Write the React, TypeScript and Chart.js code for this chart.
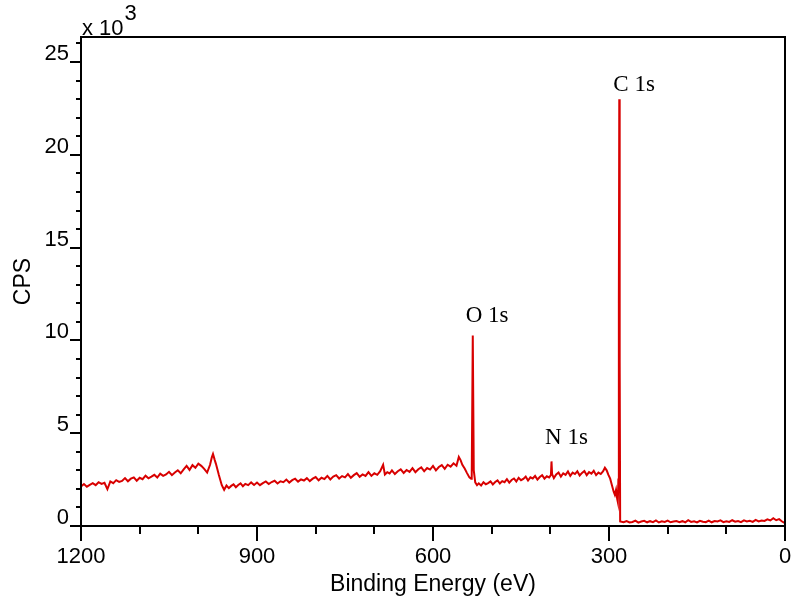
import React, { useEffect, useRef } from "react";
import { Chart, registerables } from "chart.js";
Chart.register(...registerables);

// Binding energy (eV) and counts (x10^3 CPS)
const energies = [
  1200, 1195, 1190, 1185, 1180, 1175, 1170, 1165, 1160, 1155, 1150, 1145, 1140, 1135, 1130, 1125, 1120, 1115, 1110, 1105,
  1100, 1095, 1090, 1085, 1080, 1075, 1070, 1065, 1060, 1055, 1050, 1045, 1040, 1035, 1030, 1025, 1020, 1015, 1010, 1005,
  1000, 995, 990, 985, 980, 977, 975, 972, 970, 965, 960, 956,
  952, 948, 944, 940, 936, 932, 928, 924, 920, 915, 910, 905,
  900, 895, 890, 885, 880, 875, 870, 865, 860, 855, 850, 845, 840, 835, 830, 825, 820, 815, 810, 805,
  800, 795, 790, 785, 780, 775, 770, 765, 760, 755, 750, 745, 740, 735, 730, 725, 720, 715, 710,
  705, 700, 695, 690, 685, 682, 678, 674, 670, 665, 660, 655, 650, 645, 640, 635, 630, 625, 620, 615,
  610, 605, 600, 595, 590, 585, 580, 575, 570, 565, 560, 556, 553, 550, 546, 542, 538, 535,
  534, 532.2, 530.5, 528, 525,
  522, 518, 514, 510, 506, 502, 498, 494, 490, 486, 482, 478, 474, 470, 466, 462, 458, 454, 450, 446,
  442, 438, 434, 430, 426, 422, 418, 414, 410, 406, 402, 399, 398, 397, 394, 390, 386, 382, 378, 374,
  370, 366, 362, 358, 354, 350, 346, 342, 338, 334, 330, 326, 322, 318, 314, 310, 307, 304, 301, 298,
  295, 292, 290, 288, 286, 285, 284, 283.2, 282.5, 281.8, 281,
  275, 270, 265, 260, 255, 250, 245, 240, 235, 230, 225, 220, 215, 210, 205, 200, 195, 190, 185, 180,
  175, 170, 165, 160, 155, 150, 145, 140, 135, 130, 125, 120, 115, 110, 105, 100, 95, 90, 85, 80,
  75, 70, 65, 60, 55, 50, 45, 40, 35, 30, 25, 20, 15, 10, 5, 0,
];

const kcps = [
  2.13, 2.26, 2.12, 2.22, 2.31, 2.20, 2.36, 2.27, 2.33, 1.98, 2.40, 2.31, 2.47, 2.38, 2.43, 2.58, 2.41, 2.55, 2.62, 2.44,
  2.60, 2.52, 2.71, 2.57, 2.66, 2.76, 2.61, 2.82, 2.70, 2.78, 2.92, 2.74, 2.88, 3.00, 2.84, 3.05, 3.24, 3.02, 3.28, 3.14,
  3.36, 3.24, 3.08, 2.88, 3.30, 3.70, 3.88, 3.55, 3.35, 2.75, 2.20, 1.95,
  2.18, 2.04, 2.16, 2.24, 2.09, 2.21, 2.30, 2.14, 2.27, 2.20, 2.35, 2.21,
  2.34, 2.20, 2.31, 2.40, 2.26, 2.37, 2.44, 2.29, 2.41, 2.36, 2.50, 2.34, 2.47, 2.55, 2.39, 2.51, 2.45, 2.58, 2.42, 2.55,
  2.64, 2.46, 2.60, 2.53, 2.70, 2.51, 2.66, 2.74, 2.56, 2.69, 2.62, 2.80, 2.60, 2.74, 2.85, 2.65, 2.78, 2.70, 2.90,
  2.70, 2.84, 2.76, 2.95, 3.30, 2.78, 2.90, 2.83, 3.00, 2.80, 2.95, 3.05, 2.86, 3.02, 2.92, 3.12, 2.90, 3.06, 3.16, 2.95,
  3.12, 3.04, 3.24, 3.00, 3.18, 3.28, 3.08, 3.30, 3.20, 3.38, 3.25, 3.72, 3.55, 3.30, 3.10, 2.85, 2.62, 2.55,
  2.60, 10.26, 3.00, 2.35, 2.20,
  2.30, 2.18, 2.36, 2.25, 2.31, 2.40, 2.24, 2.37, 2.46, 2.29, 2.42, 2.36, 2.52, 2.34, 2.48, 2.56, 2.40, 2.60, 2.47, 2.54,
  2.66, 2.45, 2.62, 2.56, 2.70, 2.50, 2.64, 2.74, 2.55, 2.68, 2.62, 2.75, 3.48, 2.80, 2.58, 2.78, 2.88, 2.66, 2.84, 2.76,
  2.94, 2.70, 2.88, 2.80, 2.95, 2.72, 2.86, 2.96, 2.74, 2.90, 2.82, 2.97, 2.74, 2.88, 2.80, 2.95, 3.14, 3.00, 2.75, 2.55,
  2.20, 1.85, 1.68, 1.95, 1.45, 1.30, 2.5, 12.0, 23.0, 9.0, 0.25,
  0.20, 0.27, 0.19, 0.22, 0.29, 0.18, 0.24, 0.28, 0.20, 0.26, 0.21, 0.30, 0.19, 0.25, 0.22, 0.29, 0.20, 0.24, 0.27, 0.21,
  0.26, 0.20, 0.31, 0.22, 0.25, 0.19, 0.28, 0.23, 0.21, 0.29, 0.20, 0.27, 0.24, 0.30, 0.21, 0.26, 0.22, 0.31, 0.23, 0.27,
  0.21, 0.30, 0.24, 0.28, 0.22, 0.33, 0.25, 0.30, 0.27, 0.36, 0.30, 0.42, 0.31, 0.37, 0.24, 0.15,
];

const X_MIN = 0;
const X_MAX = 1200;
const X_MAJOR = 300;
const X_MINOR = 100;
const Y_MIN = 0;
const Y_MAX = 26.35;
const Y_MAJOR = 5;
const Y_MINOR = 1;

const peakLabels = ["C 1s", "O 1s", "N 1s"];
const peakLabelEV = [292.6, 544.2, 409];
const peakLabelK = [23.45, 11.0, 4.42];

const xTitle = "Binding Energy (eV)";
const yTitle = "CPS";

const SANS = "'Liberation Sans', Arial, sans-serif";
const SERIF = "'Liberation Serif', 'Times New Roman', serif";
const LINE_COLOR = "#d80000";

const decorPlugin = {
  id: "decor",
  afterDraw(chart: any) {
    const { ctx, chartArea: a, scales } = chart;
    const xs = scales.x;
    const ys = scales.y;
    ctx.save();
    ctx.strokeStyle = "#000";
    ctx.lineWidth = 2;
    ctx.strokeRect(a.left, a.top, a.right - a.left, a.bottom - a.top);

    ctx.beginPath();
    for (let v = Y_MIN; v <= Y_MAX + 1e-9; v += Y_MINOR) {
      const y = Math.round(ys.getPixelForValue(v));
      const len = Math.abs(v % Y_MAJOR) < 1e-9 ? 11 : 5;
      ctx.moveTo(a.left - len, y);
      ctx.lineTo(a.left, y);
    }
    for (let v = X_MIN; v <= X_MAX + 1e-9; v += X_MINOR) {
      const x = Math.round(xs.getPixelForValue(v));
      const len = Math.abs(v % X_MAJOR) < 1e-9 ? 15 : 8;
      ctx.moveTo(x, a.bottom);
      ctx.lineTo(x, a.bottom + len);
    }
    ctx.stroke();

    ctx.fillStyle = "#000";
    // multiplier
    ctx.font = `22px ${SANS}`;
    ctx.textAlign = "left";
    ctx.textBaseline = "alphabetic";
    ctx.fillText("x 10", a.left + 1, a.top - 2);
    const w = ctx.measureText("x 10").width;
    ctx.fillText("3", a.left + 2 + w, a.top - 17);

    // axis titles
    ctx.font = `23px ${SANS}`;
    ctx.textAlign = "center";
    ctx.fillText(xTitle, (a.left + a.right) / 2, 591);
    ctx.save();
    ctx.translate(30, (a.top + a.bottom) / 2);
    ctx.rotate(-Math.PI / 2);
    ctx.fillText(yTitle, 0, 0);
    ctx.restore();

    // peak labels
    ctx.font = `23px ${SERIF}`;
    ctx.textAlign = "left";
    peakLabels.forEach((t, i) => {
      ctx.fillText(t, xs.getPixelForValue(peakLabelEV[i]), ys.getPixelForValue(peakLabelK[i]));
    });
    ctx.restore();
  },
};

export default function App() {
  const ref = useRef<HTMLCanvasElement | null>(null);
  useEffect(() => {
    document.body.style.margin = "0";
    const canvas = ref.current;
    if (!canvas) return;
    const points = energies.map((e, i) => ({ x: e, y: kcps[i] }));
    const chart = new Chart(canvas, {
      type: "line",
      data: {
        datasets: [
          {
            data: points,
            borderColor: LINE_COLOR,
            borderWidth: 2,
            pointRadius: 0,
            tension: 0,
            fill: false,
          },
        ],
      },
      options: {
        animation: false,
        responsive: false,
        devicePixelRatio: 1,
        layout: { padding: { left: 0, top: 37, right: 8, bottom: 0 } },
        plugins: { legend: { display: false }, tooltip: { enabled: false } },
        scales: {
          x: {
            type: "linear",
            reverse: true,
            min: X_MIN,
            max: X_MAX,
            grid: { display: false, drawTicks: true, tickLength: 18 },
            border: { display: false },
            ticks: {
              stepSize: X_MAJOR,
              autoSkip: false,
              maxRotation: 0,
              padding: 0,
              color: "#000",
              font: { family: SANS, size: 22 },
              callback: (v: any) => String(v),
            },
            afterFit: (s: any) => {
              s.height = 75;
            },
          },
          y: {
            type: "linear",
            min: Y_MIN,
            max: Y_MAX,
            grid: { display: false, drawTicks: false },
            border: { display: false },
            ticks: {
              stepSize: Y_MAJOR,
              includeBounds: false,
              padding: 12,
              labelOffset: -8,
              color: "#000",
              font: { family: SANS, size: 22 },
              callback: (v: any) => String(v),
            },
            afterFit: (s: any) => {
              s.width = 81;
            },
          },
        },
      },
      plugins: [decorPlugin],
    });
    return () => chart.destroy();
  }, []);
  return (
    <div style={{ width: 793, height: 601 }}>
      <canvas ref={ref} width={793} height={601} style={{ display: "block" }} />
    </div>
  );
}
